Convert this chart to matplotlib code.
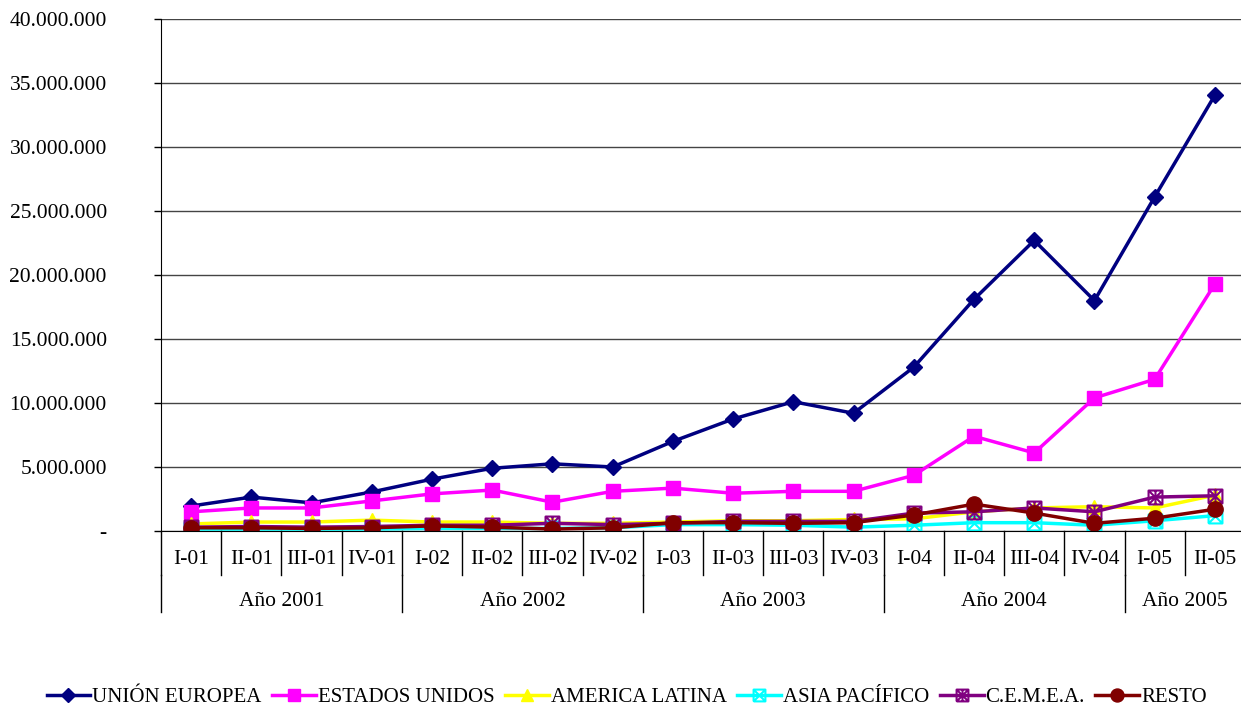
import numpy as np
import matplotlib
matplotlib.use("Agg")
import matplotlib.pyplot as plt
from matplotlib.path import Path
from matplotlib.transforms import blended_transform_factory

plt.rcParams['font.family'] = ['Liberation Serif', 'DejaVu Serif']
FS = 15.5

# Trimestres y años
quarters = ["I-01", "II-01", "III-01", "IV-01",
            "I-02", "II-02", "III-02", "IV-02",
            "I-03", "II-03", "III-03", "IV-03",
            "I-04", "II-04", "III-04", "IV-04",
            "I-05", "II-05"]
years = ["Año 2001", "Año 2002", "Año 2003", "Año 2004", "Año 2005"]
year_sizes = [4, 4, 4, 4, 2]

# Series (valores)
union_europea = [1950000, 2650000, 2200000, 3050000, 4050000, 4900000, 5250000, 5000000,
                 7000000, 8750000, 10100000, 9200000, 12800000, 18100000, 22700000,
                 18000000, 26100000, 34050000]
estados_unidos = [1500000, 1800000, 1800000, 2350000, 2900000, 3200000, 2250000, 3100000,
                  3350000, 2950000, 3100000, 3100000, 4350000, 7400000, 6100000,
                  10400000, 11850000, 19300000]
america_latina = [550000, 700000, 700000, 850000, 700000, 700000, 600000, 600000,
                  700000, 800000, 800000, 900000, 950000, 1500000, 1800000,
                  1900000, 1800000, 2800000]
asia_pacifico = [150000, 150000, 150000, 150000, 200000, 200000, 200000, 250000,
                 500000, 500000, 450000, 300000, 450000, 650000, 650000,
                 450000, 800000, 1200000]
cemea = [300000, 350000, 300000, 350000, 450000, 450000, 600000, 500000,
         600000, 750000, 750000, 750000, 1400000, 1500000, 1800000,
         1500000, 2650000, 2750000]
resto = [250000, 250000, 200000, 250000, 400000, 300000, 150000, 250000,
         650000, 650000, 600000, 650000, 1250000, 2100000, 1400000,
         600000, 1000000, 1700000]

# marcadores compuestos
sq = [(-1, -1), (1, -1), (1, 1), (-1, 1), (-1, -1)]
box_x = Path(sq + [(-1, -1), (1, 1), (-1, 1), (1, -1)],
             [Path.MOVETO] + [Path.LINETO] * 4 + [Path.MOVETO, Path.LINETO, Path.MOVETO, Path.LINETO])
box_star = Path(sq + [(-1, -1), (1, 1), (-1, 1), (1, -1), (0, 1), (0, -1)],
                [Path.MOVETO] + [Path.LINETO] * 4 +
                [Path.MOVETO, Path.LINETO, Path.MOVETO, Path.LINETO, Path.MOVETO, Path.LINETO])

series = [
    ("UNIÓN EUROPEA", union_europea, "#000080", dict(marker="D", ms=8)),
    ("ESTADOS UNIDOS", estados_unidos, "#FF00FF", dict(marker="s", ms=10)),
    ("AMERICA LATINA", america_latina, "#FFFF00", dict(marker="^", ms=10)),
    ("ASIA PACÍFICO", asia_pacifico, "#00FFFF", dict(marker=box_x, ms=10, mfc="none", mew=1.5)),
    ("C.E.M.E.A.", cemea, "#800080", dict(marker=box_star, ms=10, mfc="none", mew=1.5)),
    ("RESTO", resto, "#800000", dict(marker="o", ms=11)),
]

fig = plt.figure(figsize=(12.41, 7.07), dpi=100)
ax = fig.add_axes([161 / 1241, 176 / 707, 1084 / 1241, 512 / 707])

x = np.arange(len(quarters))
for name, vals, col, mk in series:
    ax.plot(x, vals, color=col, lw=2.5, label=name, **mk)

ax.set_xlim(-0.5, len(quarters) - 0.5)
ax.set_ylim(0, 40000000)
ax.set_yticks(np.arange(0, 40000001, 5000000))
ax.set_yticklabels(["-"] + [f"{v:,}".replace(",", ".") for v in range(5000000, 40000001, 5000000)])
ax.tick_params(axis="y", direction="out", length=5, width=1, pad=34, labelsize=FS)
ax.set_xticks([])
ax.yaxis.grid(True, color="#444444", lw=1)
ax.set_axisbelow(True)
for s in ["top", "right"]:
    ax.spines[s].set_visible(False)

# etiquetas de categoría en dos niveles
tr = blended_transform_factory(ax.transData, ax.transAxes)
for i, q in enumerate(quarters):
    ax.text(i, -0.055, q, transform=tr, ha="center", va="center", fontsize=FS)
for b in np.arange(len(quarters) + 1) - 0.5:
    ax.plot([b, b], [0, -0.086], transform=tr, color="black", lw=1, clip_on=False)
start = 0
edges = [-0.5]
for yname, n in zip(years, year_sizes):
    ax.text(start + n / 2 - 0.5, -0.137, yname, transform=tr, ha="center", va="center", fontsize=FS)
    start += n
    edges.append(start - 0.5)
for b in edges:
    ax.plot([b, b], [-0.086, -0.158], transform=tr, color="black", lw=1, clip_on=False)

fig.legend(loc="center", bbox_to_anchor=(0.505, 10 / 707), ncol=6, frameon=False,
           fontsize=15, handlelength=2.1, handletextpad=0.1, columnspacing=0.5, markerscale=0.85)

fig.savefig("out.png", dpi=100)
